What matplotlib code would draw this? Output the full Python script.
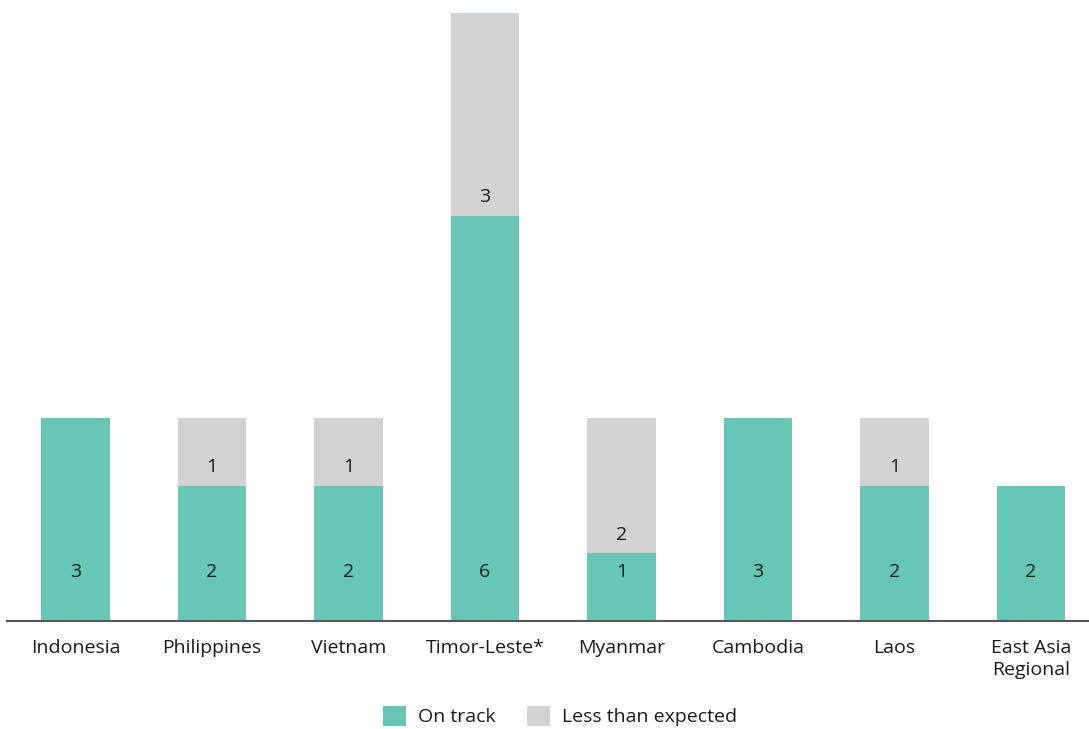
import matplotlib
matplotlib.use("Agg")
import matplotlib.pyplot as plt
from matplotlib.patches import Patch
from matplotlib.transforms import offset_copy

plt.rcParams['font.family'] = ['Open Sans', 'DejaVu Sans']

categories = ["Indonesia", "Philippines", "Vietnam", "Timor-Leste*", "Myanmar",
              "Cambodia", "Laos", "East Asia\nRegional"]
on_track = [3, 2, 2, 6, 1, 3, 2, 2]
less_than_expected = [0, 1, 1, 3, 2, 0, 1, 0]
series_names = ["On track", "Less than expected"]

GREEN = "#67C6B5"
GRAY = "#D2D3D5"
TEXT = "#1a1a1a"
FS = 14

W, H = 1089, 729
fig = plt.figure(figsize=(W / 100, H / 100), dpi=100)
left_px, right_px = 7.25, 1099.25
bottom_px, top_px = 621, 13
ax = fig.add_axes([left_px / W, (H - bottom_px) / H,
                   (right_px - left_px) / W, (bottom_px - top_px) / H])

x = list(range(len(categories)))
ax.bar(x, on_track, width=0.5, color=GREEN, zorder=2)
ax.bar(x, less_than_expected, width=0.5, bottom=on_track, color=GRAY, zorder=2)

for i in x:
    if on_track[i]:
        t = offset_copy(ax.transData, fig=fig, y=49, units='dots')
        ax.text(i, 0, str(on_track[i]), transform=t, ha='center', va='center',
                fontsize=FS, color=TEXT)
    if less_than_expected[i]:
        t = offset_copy(ax.transData, fig=fig, y=18.5, units='dots')
        ax.text(i, on_track[i], str(less_than_expected[i]), transform=t,
                ha='center', va='center', fontsize=FS, color=TEXT)

ax.set_xlim(-0.5, 7.5)
ax.set_ylim(0, 9)
ax.set_xticks(x)
ax.set_xticklabels(categories, fontsize=FS, color=TEXT, linespacing=1.3)
ax.tick_params(axis='x', length=0, pad=13)
ax.set_yticks([])
for s in ['top', 'right', 'left']:
    ax.spines[s].set_visible(False)
ax.spines['bottom'].set_color('#555555')
ax.spines['bottom'].set_linewidth(1.5)
ax.spines['bottom'].set_zorder(3)

handles = [Patch(facecolor=GREEN), Patch(facecolor=GRAY)]
fig.legend(handles, series_names, loc='center', bbox_to_anchor=(560 / W, 1 - 716 / H),
           ncol=2, frameon=False, fontsize=FS, handlelength=1.2, handleheight=1.2,
           handletextpad=0.6, columnspacing=1.6, labelcolor=TEXT)

fig.savefig("out.png", dpi=100)
